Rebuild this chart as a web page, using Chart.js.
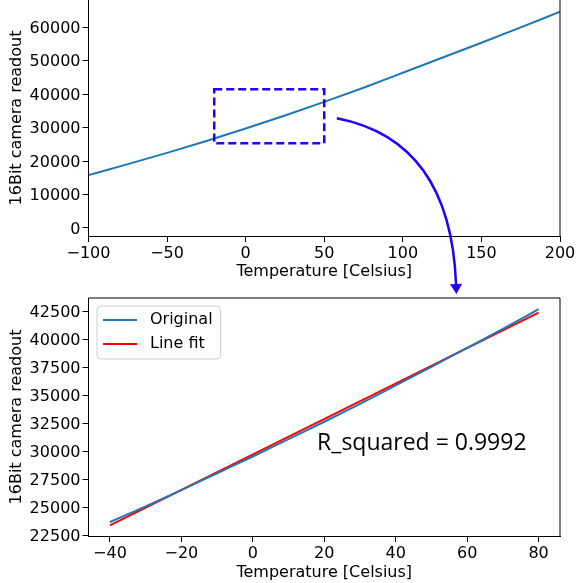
<!DOCTYPE html>
<html>
<head>
<meta charset="utf-8">
<script src="https://cdn.jsdelivr.net/npm/chart.js@4.4.0/dist/chart.umd.min.js"></script>
<style>
  html, body { margin: 0; padding: 0; background: #fff; }
  #wrap { position: relative; width: 577px; height: 583px; }
  canvas { position: absolute; left: 0; }
</style>
</head>
<body>
<div id="wrap">
  <canvas id="fullChart" width="577" height="290" style="top:0"></canvas>
  <canvas id="zoomChart" width="577" height="293" style="top:290px"></canvas>
  <canvas id="arrow" width="577" height="583" style="top:0"></canvas>
</div>
<script>
// full temperature range
const tempFull = [-100, -75, -50, -25, 0, 25, 50, 75, 100, 125, 150, 175, 200];
const readoutFull = [15800, 19100, 22450, 26000, 29750, 33650, 37700, 41950, 46400, 50900, 55400, 60000, 64650];

// zoomed range, original curve and linear fit
const tempZoom = [-40, -30, -20, -10, 0, 10, 20, 30, 40, 50, 60, 70, 80];
const readoutOriginal = [23700, 25100, 26550, 28050, 29550, 31100, 32650, 34250, 35900, 37550, 39250, 40950, 42700];
const tempFit = [-40, 80];
const readoutFit = [23400, 42400];

const fullXTicks = [-100, -50, 0, 50, 100, 150, 200];
const fullYTicks = [0, 10000, 20000, 30000, 40000, 50000, 60000];
const zoomXTicks = [-40, -20, 0, 20, 40, 60, 80];
const zoomYTicks = [22500, 25000, 27500, 30000, 32500, 35000, 37500, 40000, 42500];

const zoomBoxX = [-20, 50];
const zoomBoxY = [25300, 41450];
const rSquaredLabel = 'R_squared = 0.9992';
const xTitle = 'Temperature [Celsius]';
const yTitle = '16Bit camera readout';

const FONT = 'DejaVu Sans';
const BLUE = '#1f77b4';
const ANNOT = '#2200ff';

const pts = (xs, ys) => xs.map((x, i) => ({ x: x, y: ys[i] }));

function axis(min, max, ticks, title, size, isY, titlePad) {
  return {
    type: 'linear', min: min, max: max,
    afterBuildTicks: s => { s.ticks = ticks.map(v => ({ value: v })); },
    afterFit: s => {
      if (isY) s.width = size; else s.height = size;
      s.paddingTop = 0; s.paddingBottom = 0; s.paddingLeft = 0; s.paddingRight = 0;
    },
    grid: { drawOnChartArea: false, tickLength: 6, tickColor: '#000', tickWidth: 1 },
    border: { color: '#000', width: 1 },
    ticks: {
      color: '#000', font: { family: FONT, size: 16 }, padding: 2,
      maxRotation: 0, autoSkip: false, labelOffset: isY ? 1.5 : 0,
      callback: v => String(v).replace('-', '\u2212')
    },
    title: { display: true, text: title, color: '#000', font: { family: FONT, size: 16 }, padding: titlePad }
  };
}

// right/top spines
const frame = {
  id: 'frame',
  afterDraw(chart, args, opts) {
    const { ctx, chartArea: a } = chart;
    ctx.save();
    ctx.strokeStyle = '#000';
    ctx.lineWidth = 1;
    ctx.beginPath();
    ctx.moveTo(a.right, a.bottom);
    ctx.lineTo(a.right, a.top);
    if (opts.top) ctx.lineTo(a.left, a.top);
    ctx.stroke();
    ctx.restore();
  }
};

const dashedBox = {
  id: 'dashedBox',
  afterDatasetsDraw(chart, args, opts) {
    if (!opts.display) return;
    const { ctx, scales: { x, y } } = chart;
    const x0 = x.getPixelForValue(zoomBoxX[0]), x1 = x.getPixelForValue(zoomBoxX[1]);
    const y0 = y.getPixelForValue(zoomBoxY[1]), y1 = y.getPixelForValue(zoomBoxY[0]);
    ctx.save();
    ctx.strokeStyle = ANNOT;
    ctx.lineWidth = 2.5;
    ctx.setLineDash([8, 4]);
    ctx.strokeRect(x0, y0, x1 - x0, y1 - y0);
    ctx.restore();
  }
};

const boxLegend = {
  id: 'boxLegend',
  afterDraw(chart, args, opts) {
    if (!opts.display) return;
    const { ctx, chartArea } = chart;
    const x0 = chartArea.left + 8.5, y0 = chartArea.top + 8;
    ctx.save();
    ctx.font = '16px "' + FONT + '"';
    const items = chart.data.datasets.map(d => ({ label: d.label, color: d.borderColor }));
    const textW = Math.max(...items.map(i => ctx.measureText(i.label).width));
    const w = 53 + textW + 8, h = 53;
    ctx.beginPath();
    ctx.roundRect(x0, y0, w, h, 4);
    ctx.fillStyle = 'rgba(255,255,255,0.8)';
    ctx.fill();
    ctx.strokeStyle = '#cccccc';
    ctx.lineWidth = 1;
    ctx.stroke();
    items.forEach((it, i) => {
      const y = y0 + 14 + i * 24;
      ctx.beginPath();
      ctx.moveTo(x0 + 6, y);
      ctx.lineTo(x0 + 40, y);
      ctx.strokeStyle = it.color;
      ctx.lineWidth = 2;
      ctx.stroke();
      ctx.fillStyle = '#000';
      ctx.textBaseline = 'middle';
      ctx.fillText(it.label, x0 + 53, y);
    });
    ctx.restore();
  }
};

const rText = {
  id: 'rText',
  afterDraw(chart, args, opts) {
    if (!opts.display) return;
    const { ctx, scales: { x, y } } = chart;
    ctx.save();
    ctx.font = '23px "Open Sans"';
    ctx.fillStyle = '#000';
    ctx.textBaseline = 'alphabetic';
    ctx.fillText(rSquaredLabel, x.getPixelForValue(18), y.getPixelForValue(30150));
    ctx.restore();
  }
};

const common = {
  responsive: false, animation: false, devicePixelRatio: 1, events: [],
  elements: { point: { radius: 0 } }
};

const fullChart = new Chart(document.getElementById('fullChart'), {
  type: 'line',
  data: {
    datasets: [{
      label: 'Original', data: pts(tempFull, readoutFull),
      borderColor: BLUE, borderWidth: 2, cubicInterpolationMode: 'monotone', fill: false
    }]
  },
  options: Object.assign({}, common, {
    layout: { padding: { top: 0, right: 17, left: 0, bottom: 0 } },
    scales: {
      x: axis(-100, 200, fullXTicks, xTitle, 54, false, { top: 0, bottom: 9 }),
      y: axis(-2400, 68170, fullYTicks, yTitle, 88.5, true, { top: 7, bottom: 0 })
    },
    plugins: {
      legend: { display: false }, tooltip: { enabled: false },
      frame: { top: false }, dashedBox: { display: true },
      boxLegend: { display: false }, rText: { display: false }
    }
  }),
  plugins: [frame, dashedBox, boxLegend, rText]
});

const zoomChart = new Chart(document.getElementById('zoomChart'), {
  type: 'line',
  data: {
    datasets: [
      { label: 'Original', data: pts(tempZoom, readoutOriginal), borderColor: BLUE, borderWidth: 2, cubicInterpolationMode: 'monotone', fill: false },
      { label: 'Line fit', data: pts(tempFit, readoutFit), borderColor: '#ff0000', borderWidth: 2, fill: false }
    ]
  },
  options: Object.assign({}, common, {
    layout: { padding: { top: 8, right: 17, left: 0, bottom: 0 } },
    scales: {
      x: axis(-46, 86, zoomXTicks, xTitle, 47, false, { top: 0, bottom: 1 }),
      y: axis(22450, 43700, zoomYTicks, yTitle, 88.5, true, { top: 7, bottom: 0 })
    },
    plugins: {
      legend: { display: false }, tooltip: { enabled: false },
      frame: { top: true }, dashedBox: { display: false },
      boxLegend: { display: true }, rText: { display: true }
    }
  }),
  plugins: [frame, dashedBox, boxLegend, rText]
});

// curved arrow from the zoom box in the top chart down to the lower chart
(function drawArrow() {
  const ctx = document.getElementById('arrow').getContext('2d');
  const zoomTop = 290;
  const sx = fullChart.scales.x.getPixelForValue(58);
  const sy = fullChart.scales.y.getPixelForValue(32800);
  const ex = zoomChart.scales.x.getPixelForValue(57);
  const ey = zoomTop + zoomChart.chartArea.top - 4;
  const cx = ex - 6, cy = sy + 22;
  const headLen = 10, headW = 6;
  // tangent at end
  let tx = ex - cx, ty = ey - cy;
  const tl = Math.hypot(tx, ty); tx /= tl; ty /= tl;
  const bx = ex - tx * headLen, by = ey - ty * headLen;
  ctx.save();
  ctx.strokeStyle = ANNOT;
  ctx.fillStyle = ANNOT;
  ctx.lineWidth = 2.5;
  ctx.beginPath();
  ctx.moveTo(sx, sy);
  ctx.quadraticCurveTo(cx, cy, bx, by);
  ctx.stroke();
  ctx.beginPath();
  ctx.moveTo(ex, ey);
  ctx.lineTo(bx - ty * headW, by + tx * headW);
  ctx.lineTo(bx + ty * headW, by - tx * headW);
  ctx.closePath();
  ctx.fill();
  ctx.restore();
})();
</script>
</body>
</html>
